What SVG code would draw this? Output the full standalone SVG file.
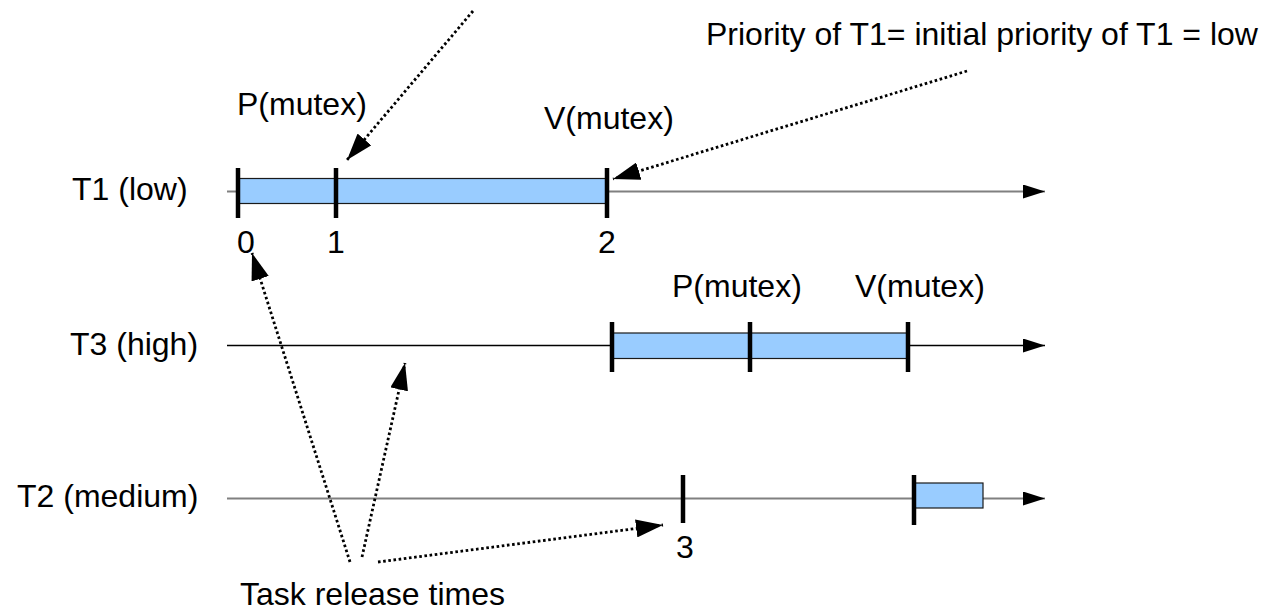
<svg xmlns="http://www.w3.org/2000/svg" width="1271" height="611" viewBox="0 0 1271 611">
<style>
  text { font-family: "Liberation Sans", Arial, sans-serif; font-size: 32px; fill: #000; }
  .axis { stroke: #808080; stroke-width: 2; fill: none; }
  .axisDark { stroke: #000; stroke-width: 1.5; fill: none; }
  .bar { fill: #99ccff; stroke: #1a1a1a; stroke-width: 1.2; }
  .tick { stroke: #000; stroke-width: 4.5; }
  .dot { stroke: #000; stroke-width: 2.8; stroke-dasharray: 2.6 2.6; fill: none; }
  .num { text-anchor: middle; }
</style>
<defs>
  <marker id="arrowSolid" markerUnits="userSpaceOnUse" viewBox="0 0 22 14" markerWidth="22" markerHeight="14" refX="22" refY="7" orient="auto">
    <path d="M0,0 L22,7 L0,14 Z" fill="#000"/>
  </marker>
  <marker id="arrowDot" markerUnits="userSpaceOnUse" viewBox="0 0 27 18" markerWidth="27" markerHeight="18" refX="27" refY="9" orient="auto">
    <path d="M0,0 L27,9 L0,18 Z" fill="#000"/>
  </marker>
</defs>

<g id="task-T1">
  <text x="72" y="200">T1 (low)</text>
  <line class="axis" x1="227" y1="191.5" x2="1045" y2="191.5" marker-end="url(#arrowSolid)"/>
  <rect class="bar" x="238" y="178.5" width="368" height="25"/>
  <line class="tick" x1="238" y1="168" x2="238" y2="218"/>
  <line class="tick" x1="336" y1="168" x2="336" y2="218"/>
  <line class="tick" x1="607" y1="168" x2="607" y2="218"/>
  <text class="num" x="246" y="253">0</text>
  <text class="num" x="336" y="253">1</text>
  <text class="num" x="607" y="253">2</text>
  <text x="237" y="115">P(mutex)</text>
  <text x="544" y="129">V(mutex)</text>
</g>

<g id="task-T3">
  <text x="70" y="355">T3 (high)</text>
  <line class="axisDark" x1="227" y1="345.5" x2="1045" y2="345.5" marker-end="url(#arrowSolid)"/>
  <rect class="bar" x="612" y="333" width="296" height="25.5"/>
  <line class="tick" x1="612" y1="322" x2="612" y2="372"/>
  <line class="tick" x1="750" y1="322" x2="750" y2="372"/>
  <line class="tick" x1="908" y1="322" x2="908" y2="372"/>
  <text x="672" y="297">P(mutex)</text>
  <text x="855" y="297">V(mutex)</text>
</g>

<g id="task-T2">
  <text x="17" y="507">T2 (medium)</text>
  <line class="axis" x1="227" y1="498.5" x2="1045" y2="498.5" marker-end="url(#arrowSolid)"/>
  <rect class="bar" x="914" y="483" width="69" height="25"/>
  <line class="tick" x1="683" y1="475" x2="683" y2="523"/>
  <line class="tick" x1="914" y1="475" x2="914" y2="525"/>
  <text class="num" x="685" y="558">3</text>
</g>

<g id="note-priority">
  <text x="706" y="45">Priority of T1= initial priority of T1 = low</text>
</g>

<g id="note-release">
  <text x="240" y="605">Task release times</text>
</g>

<g id="connectors">
  <line class="dot" x1="473" y1="11" x2="347" y2="160" marker-end="url(#arrowDot)"/>
  <line class="dot" x1="967" y1="71" x2="613" y2="179" marker-end="url(#arrowDot)"/>
  <line class="dot" x1="350" y1="562" x2="252" y2="253" marker-end="url(#arrowDot)"/>
  <line class="dot" x1="362" y1="557" x2="405" y2="363" marker-end="url(#arrowDot)"/>
  <line class="dot" x1="378" y1="562" x2="663" y2="525" marker-end="url(#arrowDot)"/>
</g>
</svg>
